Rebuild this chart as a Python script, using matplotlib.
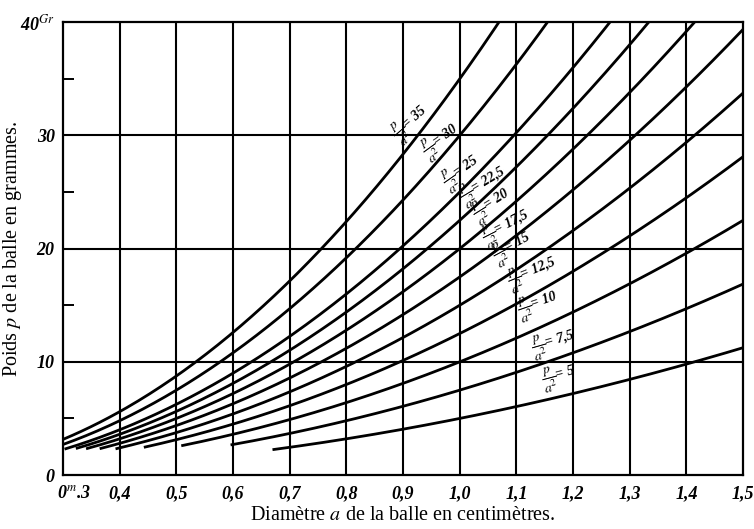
import numpy as np
import matplotlib
matplotlib.use("Agg")
import matplotlib.pyplot as plt
from matplotlib.transforms import ScaledTranslation

# Ratio p / a^2 for each curve, and the diameter (cm) at which each curve begins
ratios = [35, 30, 25, 22.5, 20, 17.5, 15, 12.5, 10, 7.5, 5]
ratio_text = ["35", "30", "25", "22,5", "20", "17,5", "15", "12,5", "10", "7,5", "5"]
start_diam = [0.30, 0.30, 0.305, 0.325, 0.343, 0.367, 0.395, 0.445, 0.511, 0.598, 0.672]

# Curve labels: centre (diameter, weight) and writing angle in degrees
label_a = [0.915, 0.968, 1.004, 1.043, 1.057, 1.083, 1.093, 1.128, 1.138, 1.166, 1.175]
label_p = [31.0, 29.4, 26.7, 25.5, 23.8, 21.8, 20.0, 17.8, 15.0, 11.6, 8.6]
label_rot = [41, 36, 35, 31, 32, 27, 28, 22, 19, 16, 15]

x_ticks = [0.3, 0.4, 0.5, 0.6, 0.7, 0.8, 0.9, 1.0, 1.1, 1.2, 1.3, 1.4, 1.5]
x_ticklabels = ["0$^{m}$.3", "0,4", "0,5", "0,6", "0,7", "0,8", "0,9", "1,0",
                "1,1", "1,2", "1,3", "1,4", "1,5"]
y_ticks = [0, 10, 20, 30, 40]
y_ticklabels = ["0", "10", "20", "30", "40$^{Gr}$"]
y_minor = [5, 15, 25, 35]

plt.rcParams["font.family"] = ["Liberation Serif", "DejaVu Serif"]
plt.rcParams["mathtext.fontset"] = "stix"

fig = plt.figure(figsize=(7.54, 5.29), dpi=100)
ax = fig.add_axes([0.0836, 0.102, 0.902, 0.856])
ax.set_xlim(0.3, 1.5)
ax.set_ylim(0, 40)

for s in ax.spines.values():
    s.set_linewidth(1.6)
    s.set_color("black")

ax.set_xticks(x_ticks)
ax.set_xticklabels(x_ticklabels, fontsize=13, fontweight="bold", style="italic")
ax.set_yticks(y_ticks)
ax.set_yticklabels(y_ticklabels, fontsize=13, fontweight="bold", style="italic")
ax.set_yticks(y_minor, minor=True)
ax.tick_params(axis="x", which="major", length=0, pad=7)
ax.tick_params(axis="y", which="major", length=0, pad=6)
ax.tick_params(axis="y", which="minor", direction="in", length=8, width=1.4)
ax.tick_params(axis="x", which="minor", length=0)

# nudge the first diameter label to the right, clear of the weight "0"
first = ax.get_xticklabels()[0]
first.set_transform(first.get_transform() + ScaledTranslation(8 / 72, 0, fig.dpi_scale_trans))

for xv in x_ticks[1:-1]:
    ax.axvline(xv, color="black", lw=1.5, zorder=1)
for yv in y_ticks[1:-1]:
    ax.axhline(yv, color="black", lw=1.5, zorder=1)

for k, a0 in zip(ratios, start_diam):
    a = np.linspace(a0, 1.5, 300)
    ax.plot(a, k * a ** 2, color="black", lw=2.0, zorder=2, clip_on=True)

for txt, la, lp, rot in zip(ratio_text, label_a, label_p, label_rot):
    ax.text(la, lp, r"$\dfrac{p}{a^2}$= " + txt, rotation=rot,
            rotation_mode="anchor", ha="center", va="center", fontsize=10,
            fontweight="bold", style="italic", zorder=3)

ax.set_xlabel("Diamètre $a$ de la balle en centimètres.", fontsize=14.5, labelpad=3)
ax.set_ylabel("Poids $p$ de la balle en grammes.", fontsize=14.5)
ax.yaxis.set_label_coords(-0.057, 0.5)

fig.savefig("out.png", dpi=100)
